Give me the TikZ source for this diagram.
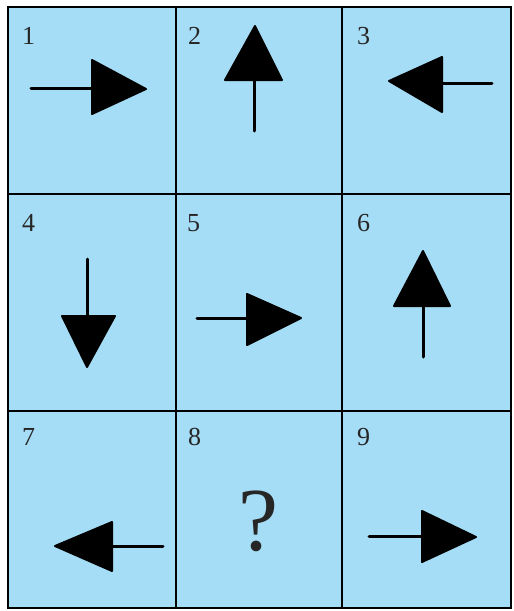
\documentclass[tikz,border=0pt]{standalone}
\usepackage{fontspec}
\setmainfont{Liberation Serif}
\definecolor{cellblue}{RGB}{166,221,246}
\begin{document}
\begin{tikzpicture}[x=1pt,y=-1pt,
  cellbox/.style={fill=cellblue,draw=black,line width=2.2pt},
  num/.style={anchor=base west,inner sep=0pt,font=\fontsize{26}{26}\selectfont,text=black!85},
  shaft/.style={line width=3pt,line cap=round},
  head/.style={fill=black,draw=black,line width=2pt,line join=round}]
\useasboundingbox (0,0) rectangle (514,611);
\fill[white] (0,0) rectangle (514,611);
% cells
\fill[cellblue] (8,7) rectangle (511,608);
\draw[line width=2.2pt] (8,7) rectangle (511,608);
\draw[line width=2.2pt] (176,7) -- (176,608);
\draw[line width=2.2pt] (342,7) -- (342,608);
\draw[line width=2.2pt] (8,194) -- (511,194);
\draw[line width=2.2pt] (8,411) -- (511,411);
% numbers
\node[num] (n1) at (22,44) {1};
\node[num] (n2) at (188,44) {2};
\node[num] (n3) at (357,44) {3};
\node[num] (n4) at (22,231) {4};
\node[num] (n5) at (187,231) {5};
\node[num] (n6) at (357,231) {6};
\node[num] (n7) at (22,445) {7};
\node[num] (n8) at (188,445) {8};
\node[num] (n9) at (357,445) {9};
% cell 1: right
\draw[shaft] (31,88) -- (92,88);
\filldraw[head] (92,60) -- (146,89) -- (92,114) -- cycle;
% cell 2: up
\draw[shaft] (254,131) -- (254,80);
\filldraw[head] (225,80) -- (255,26) -- (282,80) -- cycle;
% cell 3: left
\draw[shaft] (492,83) -- (442,83);
\filldraw[head] (442,57) -- (389,81) -- (442,112) -- cycle;
% cell 4: down
\draw[shaft] (87,259) -- (87,316);
\filldraw[head] (62,316) -- (87,367) -- (115,316) -- cycle;
% cell 5: right
\draw[shaft] (197,318) -- (247,318);
\filldraw[head] (247,294) -- (301,318) -- (247,345) -- cycle;
% cell 6: up
\draw[shaft] (423,357) -- (423,306);
\filldraw[head] (394,306) -- (423,251) -- (450,306) -- cycle;
% cell 7: left
\draw[shaft] (163,546) -- (112,546);
\filldraw[head] (112,522) -- (55,546) -- (112,571) -- cycle;
% cell 8: question mark
\node[anchor=base,inner sep=0pt,font=\fontsize{90}{90}\selectfont,text=black!85] (q) at (258,550) {?};
% cell 9: right
\draw[shaft] (369,536) -- (422,536);
\filldraw[head] (422,511) -- (476,537) -- (422,562) -- cycle;
\end{tikzpicture}
\end{document}
